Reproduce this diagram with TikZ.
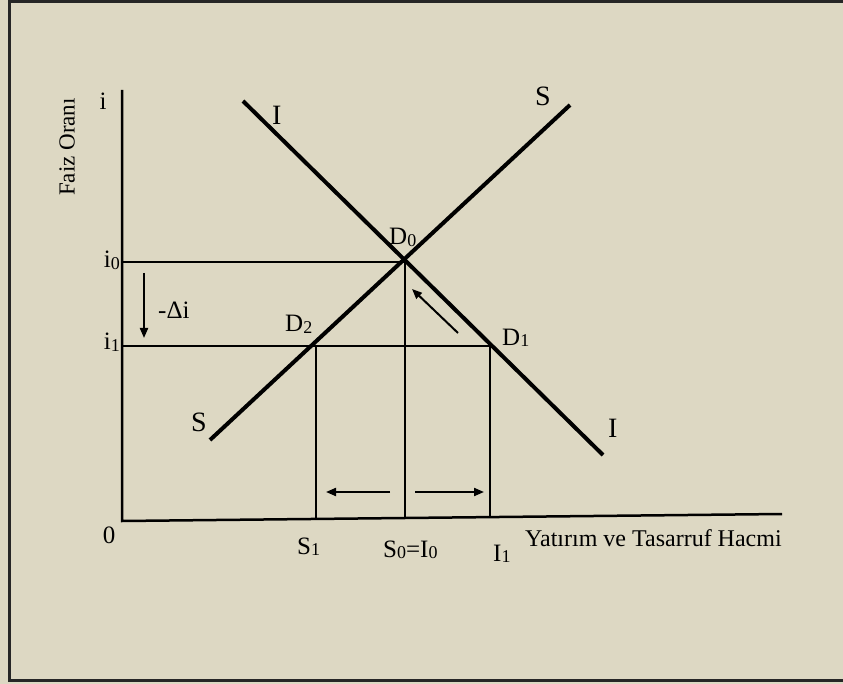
\documentclass[tikz,border=0pt]{standalone}
\usepackage{fontspec}
\setmainfont{Liberation Serif}
\usetikzlibrary{arrows.meta}
\definecolor{bg}{RGB}{221,216,195}
\newcommand\sbs[1]{\raisebox{-1.5pt}{\fontsize{18}{18}\selectfont #1}}
\begin{document}
\begin{tikzpicture}[x=1pt,y=-1pt,
 curve/.style={line width=4pt},
 axisline/.style={line width=2.5pt},
 guide/.style={line width=2pt},
 arr/.style={line width=2pt,-{Triangle[length=10pt,width=8pt]}},
 lbl/.style={font=\fontsize{25}{25}\selectfont, inner sep=0pt},
 big/.style={font=\fontsize{28}{28}\selectfont, inner sep=0pt}]
\fill[bg] (0,0) rectangle (843,684);
\useasboundingbox (0,0) rectangle (843,684);
\draw[line width=3pt, black!85] (850,1.5) -- (9,1.5) -- (9,680) -- (850,680);

% key points
\coordinate (O) at (122,521);
\coordinate (ytop) at (122,90);
\coordinate (xend) at (782,514);
\coordinate (D0) at (405,262);
\coordinate (D1) at (490,346);
\coordinate (D2) at (316,346);
\coordinate (i0) at (122,262);
\coordinate (i1) at (122,346);
\coordinate (b2) at (316,519);
\coordinate (b0) at (405,518);
\coordinate (b1) at (490,517);
\coordinate (Sa) at (210,440);
\coordinate (Sb) at (570,105);
\coordinate (Ia) at (243,101);
\coordinate (Ib) at (603,455);

% axes
\draw[axisline] (ytop) -- (O) -- (xend);
% guides
\draw[guide] (i0) -- (D0) -- (b0);
\draw[guide] (i1) -- (D1) -- (b1);
\draw[guide] (D2) -- (b2);
% curves
\draw[curve] (Sa) -- (Sb);
\draw[curve] (Ia) -- (Ib);

% arrows
\coordinate (a1s) at (144,273); \coordinate (a1e) at (144,338);
\draw[arr] (a1s) -- (a1e);
\coordinate (a2s) at (458,333); \coordinate (a2e) at (412,289);
\draw[arr] (a2s) -- (a2e);
\coordinate (a3s) at (390,492); \coordinate (a3e) at (326,492);
\draw[arr] (a3s) -- (a3e);
\coordinate (a4s) at (415,492); \coordinate (a4e) at (484,492);
\draw[arr] (a4s) -- (a4e);

% labels
\node[lbl, anchor=base] (li) at (103,110) {i};
\node[lbl, anchor=base east] (li0) at (120,268) {i\sbs{0}};
\node[lbl, anchor=base east] (li1) at (120,350) {i\sbs{1}};
\node[lbl, anchor=base] (l0) at (109,543) {0};
\node[lbl, anchor=base west] (lS1) at (297,554) {S\sbs{1}};
\node[lbl, anchor=base west] (lS0) at (383,557) {S\sbs{0}=I\sbs{0}};
\node[lbl, anchor=base west] (lI1) at (493,561) {I\sbs{1}};
\node[anchor=base west, inner sep=0pt, font=\fontsize{24}{24}\selectfont] (lx) at (525,546) {Yatırım ve Tasarruf Hacmi};
\node[inner sep=0pt, rotate=90, font=\fontsize{23}{23}\selectfont] (ly) at (67,147) {Faiz Oranı};
\node[lbl, anchor=base west] (ldi) at (158,319) {-Δi};
\node[lbl, anchor=base west] (lD0) at (389,245) {D\sbs{0}};
\node[lbl, anchor=base west] (lD2) at (285,332) {D\sbs{2}};
\node[lbl, anchor=base west] (lD1) at (502,345) {D\sbs{1}};
\node[big, anchor=base west] (lIt) at (272,125) {I};
\node[big, anchor=base west] (lSt) at (535,106) {S};
\node[big, anchor=base west] (lSb) at (191,431) {S};
\node[big, anchor=base west] (lIb) at (608,437) {I};
\end{tikzpicture}
\end{document}
